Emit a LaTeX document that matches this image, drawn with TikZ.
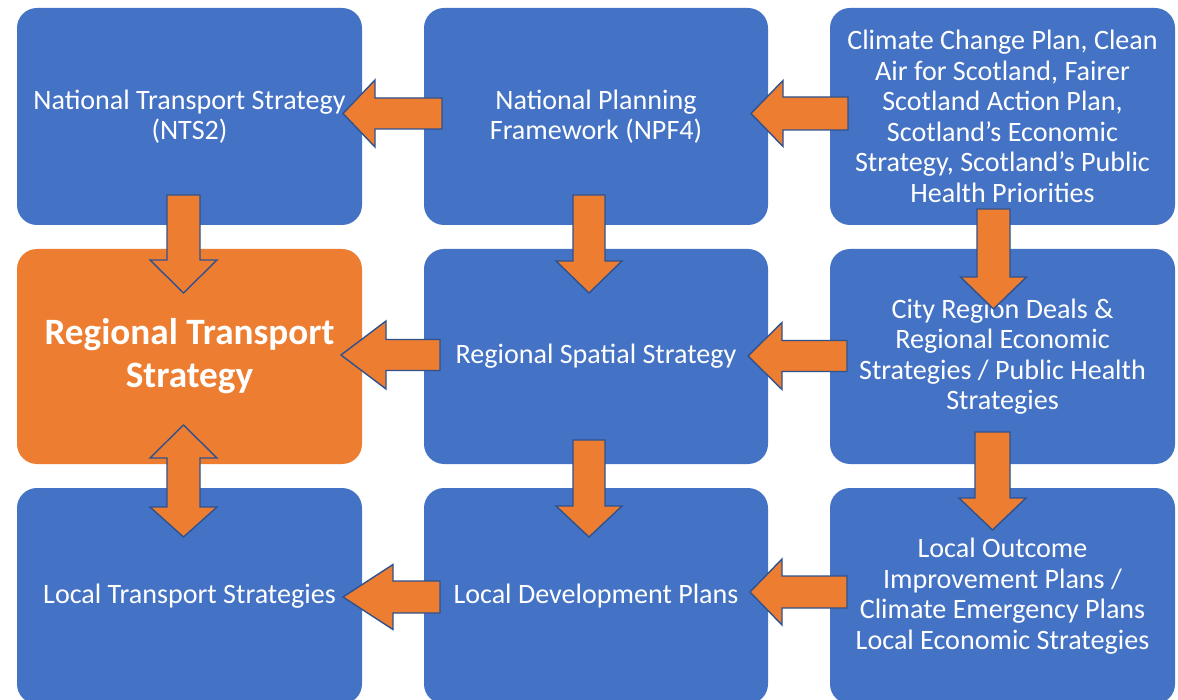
\documentclass[tikz,border=0pt]{standalone}
\usepackage{fontspec}
\setmainfont{Carlito}
\definecolor{boxblue}{HTML}{4472C4}
\definecolor{arrorange}{HTML}{ED7D31}
\definecolor{edgeblue}{HTML}{2F528F}
\newcommand\blockL[6]{%
  \draw[barrow] (#1,#2) -- (#3,#2-#6) -- (#3,#2-#5) -- (#4,#2-#5) -- (#4,#2+#5) -- (#3,#2+#5) -- (#3,#2+#6) -- cycle;}
\newcommand\blockD[6]{%
  \draw[barrow] (#1,#4) -- (#1-#6,#3) -- (#1-#5,#3) -- (#1-#5,#2) -- (#1+#5,#2) -- (#1+#5,#3) -- (#1+#6,#3) -- cycle;}
\begin{document}
\begin{tikzpicture}[x=1pt,y=-1pt,
  box/.style={rectangle, fill=boxblue, draw=none, rounded corners=20pt, inner sep=0pt,
    align=center, text=white, font=\fontsize{28.1}{30.5}\selectfont},
  hot/.style={box, fill=arrorange, font=\fontsize{37.2}{43}\selectfont\bfseries},
  barrow/.style={fill=arrorange, draw=edgeblue, line width=1.4pt, line join=miter}]
\clip (0,0) rectangle (1178,700);
\fill[white] (0,0) rectangle (1178,700);
% row 1
\node[box, minimum width=345pt, minimum height=217pt] (nts) at (189.5,116.5)
  {National Transport Strategy\\(NTS2)};
\node[box, minimum width=344pt, minimum height=217pt] (npf) at (596,116.5)
  {National Planning\\Framework (NPF4)};
\node[box, minimum width=345pt, minimum height=217pt] (ccp) at (1002.5,116.5)
  {Climate Change Plan, Clean\\Air for Scotland, Fairer\\Scotland Action Plan,\\Scotland’s Economic\\Strategy, Scotland’s Public\\Health Priorities};
% row 2
\node[hot, minimum width=345pt, minimum height=215pt] (rts) at (189.5,356.5)
  {Regional Transport\\Strategy};
\node[box, minimum width=344pt, minimum height=215pt] (rss) at (596,356.5)
  {Regional Spatial Strategy};
\node[box, minimum width=345pt, minimum height=215pt] (crd) at (1002.5,356.5)
  {City Region Deals \&\\Regional Economic\\Strategies / Public Health\\Strategies};
% row 3
\node[box, minimum width=345pt, minimum height=216pt] (lts) at (189.5,596)
  {Local Transport Strategies};
\node[box, minimum width=344pt, minimum height=216pt] (ldp) at (596,596)
  {Local Development Plans};
\node[box, minimum width=345pt, minimum height=216pt] (loip) at (1002.5,596)
  {Local Outcome\\Improvement Plans /\\Climate Emergency Plans\\Local Economic Strategies};
% horizontal block arrows (pointing left)
\blockL{343}{113.5}{375}{442}{15.5}{33.5}   % npf -> nts
\blockL{751}{113.5}{783}{848}{16.5}{33}     % ccp -> npf
\blockL{341}{355}{386}{440}{15.5}{34}       % rss -> rts
\blockL{748}{356}{782}{847}{15.5}{33.5}     % crd -> rss
\blockL{343}{597}{393}{440}{16}{32.5}       % ldp -> lts
\blockL{750}{592}{782}{847}{16}{33}         % loip -> ldp
% vertical block arrows (pointing down)
\blockD{183.5}{195}{260}{293}{16.5}{33.5}   % nts -> rts
\blockD{589}{195}{261}{293}{16}{33}         % npf -> rss
\blockD{993.5}{209}{277}{309}{16.5}{33}     % ccp -> crd
\blockD{589}{440}{506}{537}{16}{33}         % rss -> ldp
\blockD{992.5}{432}{498}{530}{17.5}{33.5}   % crd -> loip
% double arrow rts <-> lts
\draw[barrow] (183.5,425) -- (217,458) -- (200,458) -- (200,507) -- (217,507) -- (183.5,537)
  -- (150,507) -- (167,507) -- (167,458) -- (150,458) -- cycle;
\end{tikzpicture}
\end{document}
